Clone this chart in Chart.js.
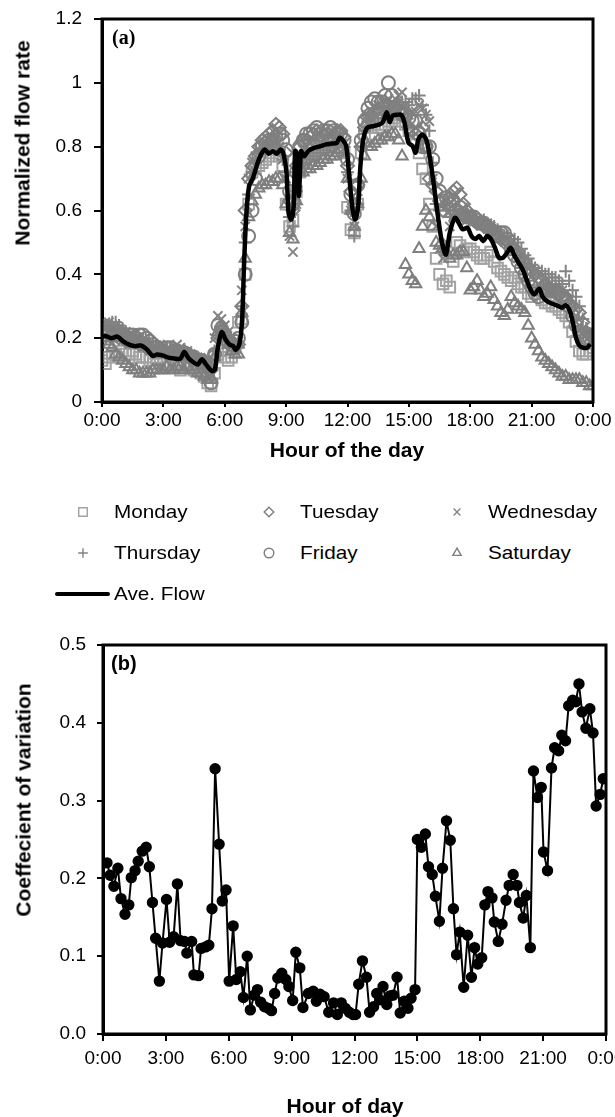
<!DOCTYPE html>
<html>
<head>
<meta charset="utf-8">
<script src="https://cdn.jsdelivr.net/npm/chart.js@4.4.1/dist/chart.umd.min.js"></script>
<style>
  body { margin: 0; background: #fff; font-family: "Liberation Sans", Arial, sans-serif; }
  #page { position: relative; width: 615px; height: 1117px; overflow: hidden; }
  canvas { position: absolute; left: 0; }
  .txt { position: absolute; white-space: nowrap; color: #000; line-height: 1; }
  .ytitle { font-weight: bold; font-size: 21px; transform: translate(-50%, -50%) rotate(-90deg); }
  .xtitle { font-weight: bold; font-size: 19.5px; transform: translate(-50%, -50%) scaleX(1.08); }
  .tag { font-weight: bold; font-size: 20px; transform: translateY(-50%); }
  .leg { font-size: 18.5px; transform: translateY(-50%) scaleX(1.12); transform-origin: left center; }
</style>
</head>
<body>
<div id="page">
  <canvas id="flowChart" width="615" height="470" style="top:0"></canvas>
  <canvas id="cvChart" width="615" height="497" style="top:620px"></canvas>

  <div class="txt ytitle" style="left:22px; top:143px">Normalized flow rate</div>
  <div class="txt xtitle" style="left:347px; top:451px">Hour of the day</div>
  <div class="txt tag" style="left:112px; top:37px; font-family:'Liberation Serif','Times New Roman',serif">(a)</div>

  <div class="txt ytitle" style="left:23px; top:800px">Coeffecient of variation</div>
  <div class="txt xtitle" style="left:345px; top:1107px">Hour of day</div>
  <div class="txt tag" style="left:111px; top:663px">(b)</div>

  <div id="legend"></div>
</div>

<script>
// --- data ---
const hourTicks = ['0:00', '3:00', '6:00', '9:00', '12:00', '15:00', '18:00', '21:00', '0:00'];
const flowTicks = ['0', '0.2', '0.4', '0.6', '0.8', '1', '1.2'];
const cvTicks = ['0.0', '0.1', '0.2', '0.3', '0.4', '0.5'];

const dayNames = ['Monday', 'Tuesday', 'Wednesday', 'Thursday', 'Friday', 'Saturday'];
const avgName = 'Ave. Flow';

// day samples every 10 minutes, 0:00 .. 24:00 (one row = two hours)
const dayHours = Array.from({ length: 145 }, (_, i) => i / 6);

const monday = [
  0.13, 0.12, 0.14, 0.15, 0.15, 0.14, 0.16, 0.15, 0.15, 0.16, 0.15, 0.14,
  0.14, 0.14, 0.13, 0.12, 0.12, 0.13, 0.12, 0.11, 0.11, 0.12, 0.11, 0.10,
  0.12, 0.11, 0.11, 0.10, 0.10, 0.09, 0.08, 0.06, 0.05, 0.09, 0.15, 0.16,
  0.14, 0.13, 0.14, 0.17, 0.25, 0.26, 0.40, 0.62, 0.72, 0.73, 0.74, 0.75,
  0.76, 0.77, 0.78, 0.79, 0.77, 0.74, 0.62, 0.55, 0.57, 0.66, 0.72, 0.75,
  0.77, 0.78, 0.78, 0.79, 0.80, 0.79, 0.80, 0.81, 0.81, 0.82, 0.80, 0.78,
  0.61, 0.54, 0.53, 0.62, 0.78, 0.84, 0.86, 0.86, 0.87, 0.86, 0.86, 0.87,
  0.88, 0.88, 0.89, 0.90, 0.88, 0.87, 0.85, 0.84, 0.82, 0.78, 0.73, 0.70,
  0.62, 0.55, 0.45, 0.40, 0.37, 0.38, 0.36, 0.44, 0.50, 0.49, 0.47, 0.48,
  0.48, 0.47, 0.46, 0.45, 0.45, 0.46, 0.47, 0.44, 0.42, 0.41, 0.40, 0.39,
  0.38, 0.39, 0.37, 0.36, 0.36, 0.34, 0.33, 0.35, 0.34, 0.32, 0.31, 0.31,
  0.30, 0.30, 0.29, 0.28, 0.27, 0.25, 0.22, 0.19, 0.16, 0.15, 0.15, 0.16,
  0.17
];
const tuesday = [
  0.22, 0.23, 0.22, 0.21, 0.21, 0.20, 0.20, 0.19, 0.19, 0.20, 0.19, 0.18,
  0.18, 0.17, 0.17, 0.16, 0.16, 0.17, 0.16, 0.15, 0.15, 0.16, 0.15, 0.15,
  0.16, 0.15, 0.14, 0.14, 0.13, 0.13, 0.13, 0.11, 0.10, 0.15, 0.20, 0.22,
  0.22, 0.20, 0.19, 0.18, 0.18, 0.30, 0.60, 0.70, 0.74, 0.77, 0.80, 0.82,
  0.83, 0.84, 0.85, 0.87, 0.86, 0.84, 0.78, 0.63, 0.60, 0.74, 0.80, 0.82,
  0.82, 0.83, 0.84, 0.85, 0.83, 0.84, 0.84, 0.83, 0.84, 0.85, 0.85, 0.83,
  0.74, 0.66, 0.62, 0.68, 0.80, 0.86, 0.90, 0.90, 0.91, 0.92, 0.92, 0.93,
  0.93, 0.92, 0.92, 0.93, 0.91, 0.89, 0.86, 0.85, 0.84, 0.85, 0.86, 0.80,
  0.70, 0.68, 0.66, 0.63, 0.60, 0.62, 0.64, 0.66, 0.67, 0.65, 0.62, 0.60,
  0.58, 0.57, 0.56, 0.56, 0.55, 0.55, 0.54, 0.53, 0.52, 0.51, 0.50, 0.50,
  0.49, 0.48, 0.47, 0.45, 0.44, 0.42, 0.41, 0.40, 0.39, 0.38, 0.37, 0.36,
  0.35, 0.35, 0.34, 0.33, 0.33, 0.31, 0.30, 0.29, 0.28, 0.25, 0.22, 0.21,
  0.20
];
const wednesday = [
  0.24, 0.25, 0.25, 0.24, 0.24, 0.23, 0.22, 0.22, 0.21, 0.21, 0.20, 0.20,
  0.19, 0.18, 0.18, 0.17, 0.17, 0.18, 0.17, 0.16, 0.16, 0.17, 0.18, 0.17,
  0.16, 0.16, 0.15, 0.14, 0.14, 0.13, 0.13, 0.12, 0.12, 0.20, 0.27, 0.26,
  0.24, 0.22, 0.20, 0.19, 0.19, 0.35, 0.55, 0.70, 0.75, 0.77, 0.79, 0.80,
  0.81, 0.81, 0.82, 0.82, 0.80, 0.76, 0.70, 0.52, 0.47, 0.62, 0.76, 0.79,
  0.80, 0.81, 0.82, 0.82, 0.83, 0.82, 0.82, 0.83, 0.84, 0.84, 0.83, 0.81,
  0.70, 0.60, 0.55, 0.66, 0.82, 0.88, 0.90, 0.91, 0.92, 0.93, 0.93, 0.94,
  0.95, 0.94, 0.95, 0.96, 0.97, 0.93, 0.90, 0.91, 0.91, 0.93, 0.92, 0.90,
  0.88, 0.70, 0.55, 0.48, 0.45, 0.50, 0.55, 0.58, 0.60, 0.59, 0.58, 0.57,
  0.56, 0.57, 0.57, 0.56, 0.56, 0.56, 0.55, 0.54, 0.53, 0.52, 0.51, 0.51,
  0.50, 0.48, 0.45, 0.44, 0.43, 0.42, 0.41, 0.41, 0.40, 0.38, 0.37, 0.37,
  0.36, 0.36, 0.35, 0.35, 0.34, 0.32, 0.30, 0.27, 0.24, 0.22, 0.21, 0.21,
  0.21
];
const thursday = [
  0.23, 0.24, 0.24, 0.25, 0.25, 0.24, 0.23, 0.22, 0.21, 0.21, 0.20, 0.20,
  0.19, 0.19, 0.18, 0.17, 0.17, 0.17, 0.16, 0.16, 0.16, 0.15, 0.15, 0.16,
  0.16, 0.15, 0.15, 0.14, 0.14, 0.13, 0.12, 0.12, 0.11, 0.16, 0.21, 0.20,
  0.19, 0.18, 0.17, 0.17, 0.17, 0.30, 0.50, 0.65, 0.72, 0.75, 0.78, 0.79,
  0.80, 0.80, 0.80, 0.79, 0.79, 0.76, 0.72, 0.58, 0.55, 0.66, 0.74, 0.75,
  0.76, 0.76, 0.77, 0.78, 0.78, 0.79, 0.80, 0.80, 0.81, 0.81, 0.82, 0.80,
  0.72, 0.60, 0.52, 0.62, 0.80, 0.85, 0.88, 0.88, 0.89, 0.89, 0.90, 0.90,
  0.91, 0.92, 0.93, 0.93, 0.94, 0.94, 0.93, 0.95, 0.95, 0.96, 0.93, 0.90,
  0.85, 0.75, 0.62, 0.60, 0.62, 0.60, 0.58, 0.59, 0.60, 0.59, 0.58, 0.58,
  0.57, 0.57, 0.56, 0.56, 0.57, 0.56, 0.55, 0.55, 0.54, 0.53, 0.52, 0.52,
  0.51, 0.51, 0.50, 0.48, 0.46, 0.45, 0.43, 0.42, 0.41, 0.41, 0.40, 0.40,
  0.39, 0.39, 0.38, 0.37, 0.41, 0.38, 0.35, 0.33, 0.30, 0.26, 0.23, 0.21,
  0.20
];
const friday = [
  0.21, 0.22, 0.22, 0.21, 0.21, 0.22, 0.21, 0.20, 0.20, 0.21, 0.20, 0.21,
  0.21, 0.20, 0.19, 0.18, 0.17, 0.16, 0.16, 0.17, 0.17, 0.16, 0.16, 0.15,
  0.15, 0.15, 0.14, 0.14, 0.13, 0.13, 0.12, 0.08, 0.06, 0.15, 0.24, 0.23,
  0.21, 0.19, 0.18, 0.19, 0.20, 0.25, 0.40, 0.52, 0.60, 0.70, 0.77, 0.80,
  0.81, 0.82, 0.82, 0.83, 0.84, 0.82, 0.79, 0.66, 0.62, 0.72, 0.80, 0.82,
  0.84, 0.84, 0.85, 0.86, 0.84, 0.85, 0.85, 0.86, 0.85, 0.84, 0.84, 0.82,
  0.76, 0.65, 0.59, 0.68, 0.82, 0.88, 0.92, 0.94, 0.95, 0.94, 0.94, 0.96,
  1.00, 0.96, 0.92, 0.91, 0.90, 0.90, 0.89, 0.88, 0.88, 0.84, 0.80, 0.80,
  0.80, 0.76, 0.70, 0.66, 0.63, 0.64, 0.62, 0.63, 0.60, 0.61, 0.59, 0.58,
  0.58, 0.58, 0.57, 0.56, 0.56, 0.55, 0.54, 0.53, 0.52, 0.53, 0.53, 0.51,
  0.48, 0.46, 0.44, 0.42, 0.40, 0.38, 0.36, 0.34, 0.33, 0.35, 0.36, 0.35,
  0.35, 0.35, 0.34, 0.33, 0.32, 0.30, 0.27, 0.24, 0.22, 0.21, 0.20, 0.20,
  0.21
];
const saturday = [
  0.20, 0.19, 0.18, 0.17, 0.15, 0.14, 0.13, 0.12, 0.11, 0.10, 0.10, 0.09,
  0.09, 0.09, 0.09, 0.10, 0.10, 0.10, 0.10, 0.11, 0.10, 0.10, 0.11, 0.11,
  0.10, 0.11, 0.10, 0.10, 0.09, 0.09, 0.08, 0.07, 0.07, 0.14, 0.22, 0.23,
  0.20, 0.18, 0.16, 0.15, 0.15, 0.28, 0.45, 0.58, 0.63, 0.65, 0.67, 0.68,
  0.68, 0.69, 0.69, 0.70, 0.70, 0.68, 0.62, 0.53, 0.51, 0.63, 0.72, 0.72,
  0.73, 0.73, 0.74, 0.74, 0.75, 0.76, 0.76, 0.77, 0.77, 0.78, 0.79, 0.78,
  0.70, 0.60, 0.55, 0.62, 0.70, 0.77, 0.80, 0.80, 0.81, 0.82, 0.82, 0.83,
  0.83, 0.84, 0.84, 0.82, 0.77, 0.43, 0.40, 0.38, 0.37, 0.48, 0.55, 0.60,
  0.58, 0.55, 0.50, 0.49, 0.48, 0.47, 0.45, 0.46, 0.46, 0.47, 0.47, 0.42,
  0.35, 0.36, 0.38, 0.35, 0.33, 0.34, 0.36, 0.32, 0.30, 0.28, 0.27, 0.29,
  0.33, 0.31, 0.30, 0.29, 0.28, 0.24, 0.20, 0.18, 0.16, 0.14, 0.13, 0.12,
  0.11, 0.10, 0.09, 0.08, 0.08, 0.07, 0.07, 0.07, 0.07, 0.06, 0.06, 0.05,
  0.05
];
const dayValues = [monday, tuesday, wednesday, thursday, friday, saturday];

// average flow line
const avgHours = [
  0, 0.17, 0.46, 0.75, 1.04, 1.33, 1.62, 1.9, 2.19, 2.48,
  2.67, 2.96, 3.25, 3.54, 3.83, 4.02, 4.21, 4.5, 4.69, 4.88,
  5.08, 5.37, 5.52, 5.65, 5.85, 6.04, 6.23, 6.42, 6.52, 6.71,
  6.85, 6.94, 7.06, 7.19, 7.38, 7.58, 7.77, 7.96, 8.15, 8.35,
  8.54, 8.73, 8.87, 9.02, 9.12, 9.25, 9.37, 9.44, 9.54, 9.63,
  9.73, 9.88, 10.08, 10.37, 10.65, 10.94, 11.23, 11.48, 11.62, 11.81,
  11.94, 12.1, 12.25, 12.38, 12.52, 12.63, 12.77, 12.96, 13.25, 13.54,
  13.73, 13.92, 14.06, 14.21, 14.44, 14.63, 14.79, 14.98, 15.17, 15.33,
  15.46, 15.65, 15.85, 16.04, 16.23, 16.42, 16.62, 16.81, 17.0, 17.25,
  17.44, 17.63, 17.87, 18.06, 18.25, 18.44, 18.63, 18.83, 19.02, 19.21,
  19.4, 19.6, 19.79, 19.98, 20.17, 20.37, 20.56, 20.75, 20.94, 21.13,
  21.37, 21.52, 21.71, 21.9, 22.1, 22.29, 22.48, 22.67, 22.87, 23.02,
  23.17, 23.33, 23.52, 23.71, 23.87
];
const avgFlow = [
  0.205, 0.207, 0.2, 0.205, 0.19, 0.18, 0.175, 0.177, 0.165, 0.144,
  0.149, 0.146, 0.139, 0.136, 0.136, 0.157, 0.139, 0.123, 0.118, 0.134,
  0.118, 0.097, 0.102, 0.165, 0.219, 0.196, 0.18, 0.175, 0.163, 0.18,
  0.259, 0.426, 0.593, 0.676, 0.702, 0.744, 0.775, 0.791, 0.778, 0.786,
  0.778, 0.791, 0.778, 0.718, 0.593, 0.572, 0.614, 0.786, 0.775, 0.645,
  0.786, 0.77, 0.786, 0.796, 0.801, 0.807, 0.81, 0.812, 0.828, 0.817,
  0.801, 0.697, 0.603, 0.572, 0.614, 0.739, 0.822, 0.859, 0.864, 0.869,
  0.877, 0.908, 0.877, 0.897, 0.9, 0.9, 0.874, 0.812, 0.803, 0.781,
  0.822, 0.838, 0.822, 0.76, 0.676, 0.582, 0.499, 0.462, 0.53, 0.577,
  0.561, 0.541, 0.546, 0.52, 0.511, 0.52, 0.504, 0.52, 0.509, 0.483,
  0.452, 0.452, 0.467, 0.483, 0.457, 0.436, 0.415, 0.384, 0.353, 0.337,
  0.355, 0.332, 0.318, 0.311, 0.306, 0.301, 0.295, 0.303, 0.285, 0.248,
  0.201, 0.177, 0.17, 0.17, 0.181
];

// coefficient of variation (panel b)
const cvHours = [
  0.19, 0.34, 0.52, 0.71, 0.86, 1.05, 1.23, 1.35, 1.53, 1.68,
  1.87, 2.06, 2.21, 2.36, 2.51, 2.69, 2.84, 3.03, 3.18, 3.37,
  3.55, 3.70, 3.89, 4.00, 4.23, 4.34, 4.56, 4.68, 4.90, 5.05,
  5.20, 5.35, 5.54, 5.69, 5.87, 6.02, 6.21, 6.36, 6.55, 6.70,
  6.88, 7.03, 7.22, 7.37, 7.52, 7.71, 7.89, 8.04, 8.19, 8.34,
  8.53, 8.72, 8.87, 9.05, 9.20, 9.39, 9.54, 9.80, 10.03, 10.18,
  10.36, 10.55, 10.77, 11.00, 11.18, 11.37, 11.56, 11.75, 11.93, 12.05,
  12.20, 12.38, 12.57, 12.72, 12.91, 13.06, 13.21, 13.36, 13.54, 13.69,
  13.84, 14.03, 14.18, 14.37, 14.55, 14.70, 14.89, 15.00, 15.19, 15.38,
  15.53, 15.71, 15.86, 16.05, 16.20, 16.39, 16.57, 16.72, 16.87, 17.02,
  17.21, 17.40, 17.58, 17.73, 17.88, 18.07, 18.22, 18.37, 18.56, 18.67,
  18.86, 19.04, 19.23, 19.38, 19.57, 19.75, 19.87, 20.05, 20.20, 20.39,
  20.54, 20.73, 20.91, 21.02, 21.21, 21.40, 21.55, 21.74, 21.89, 22.07,
  22.22, 22.41, 22.56, 22.71, 22.86, 23.04, 23.23, 23.38, 23.53, 23.72,
  23.87
];
const cvValues = [
  0.220, 0.204, 0.190, 0.213, 0.174, 0.154, 0.166, 0.201, 0.210, 0.222,
  0.235, 0.240, 0.215, 0.169, 0.123, 0.068, 0.117, 0.173, 0.118, 0.125,
  0.193, 0.120, 0.119, 0.104, 0.119, 0.076, 0.075, 0.110, 0.112, 0.114,
  0.161, 0.341, 0.244, 0.171, 0.185, 0.068, 0.139, 0.070, 0.080, 0.047,
  0.100, 0.031, 0.050, 0.057, 0.041, 0.035, 0.033, 0.030, 0.052, 0.072,
  0.078, 0.070, 0.061, 0.043, 0.105, 0.085, 0.034, 0.052, 0.055, 0.042,
  0.051, 0.048, 0.028, 0.040, 0.025, 0.040, 0.033, 0.028, 0.025, 0.025,
  0.064, 0.094, 0.073, 0.028, 0.035, 0.052, 0.044, 0.061, 0.038, 0.049,
  0.050, 0.073, 0.027, 0.042, 0.033, 0.046, 0.057, 0.250, 0.240, 0.257,
  0.215, 0.205, 0.177, 0.145, 0.213, 0.274, 0.249, 0.161, 0.102, 0.131,
  0.060, 0.127, 0.073, 0.111, 0.090, 0.098, 0.166, 0.183, 0.175, 0.144,
  0.119, 0.141, 0.172, 0.191, 0.205, 0.191, 0.169, 0.149, 0.178, 0.111,
  0.338, 0.304, 0.317, 0.234, 0.210, 0.342, 0.368, 0.364, 0.384, 0.377,
  0.422, 0.429, 0.427, 0.450, 0.414, 0.393, 0.418, 0.387, 0.293, 0.308,
  0.328
];

// --- styles ---
const dayMarkers = ['rect', 'rectRot', 'crossRot', 'cross', 'circle', 'triangle'];
const dayColors = ['#a2a2a2', '#7f7f7f', '#838383', '#838383', '#7f7f7f', '#7f7f7f'];
const FONT = "'Liberation Sans', Arial, sans-serif";

function pairs(xs, ys) {
  const n = Math.min(xs.length, ys.length);
  const out = [];
  for (let i = 0; i < n; i++) out.push({ x: xs[i], y: ys[i] });
  return out;
}

// black box round the plot area
const frame = {
  id: 'frame',
  afterDraw(chart) {
    const a = chart.chartArea, ctx = chart.ctx;
    ctx.save();
    ctx.strokeStyle = '#000';
    ctx.lineWidth = 3;
    ctx.strokeRect(a.left, a.top, a.right - a.left, a.bottom - a.top);
    ctx.restore();
  }
};

function xAxis(tickLen, pad) {
  return {
    type: 'linear', min: 0, max: 24,
    afterFit(s) { s.height = 30; s.paddingLeft = 0; s.paddingRight = 0; },
    grid: { drawOnChartArea: false, drawTicks: true, tickLength: tickLen, color: '#000', lineWidth: 2 },
    border: { display: true, color: '#000', width: 3 },
    ticks: {
      stepSize: 3, padding: pad, color: '#000', maxRotation: 0, autoSkip: false,
      font: { family: FONT, size: 19 },
      callback: v => hourTicks[Math.round(v / 3)]
    }
  };
}

function yAxis(width, max, step, labels, tickLen, pad) {
  return {
    type: 'linear', min: 0, max: max,
    afterFit(s) { s.width = width; s.paddingTop = 0; s.paddingBottom = 0; },
    grid: { drawOnChartArea: false, drawTicks: true, tickLength: tickLen, color: '#000', lineWidth: 2 },
    border: { display: true, color: '#000', width: 3 },
    ticks: {
      stepSize: step, padding: pad, color: '#000', autoSkip: false,
      font: { family: FONT, size: 19 },
      callback: v => labels[Math.round(v / step)]
    }
  };
}

const flowSets = dayNames.map((name, i) => ({
  label: name,
  data: pairs(dayHours, dayValues[i]),
  showLine: false,
  pointStyle: dayMarkers[i],
  pointRadius: dayMarkers[i] === 'rect' ? 7.5 : 6.5,
  pointBorderWidth: 2,
  borderColor: dayColors[i],
  backgroundColor: 'rgba(0,0,0,0)',
  order: 6 - i
}));
flowSets.push({
  label: avgName,
  data: pairs(avgHours, avgFlow),
  showLine: true,
  pointRadius: 0,
  borderColor: '#000',
  borderWidth: 4.5,
  tension: 0.3,
  order: 0
});

new Chart(document.getElementById('flowChart'), {
  type: 'scatter',
  data: { datasets: flowSets },
  options: {
    responsive: false,
    animation: false,
    layout: { autoPadding: false, padding: { left: 0, top: 19, right: 22, bottom: 38 } },
    plugins: { legend: { display: false }, tooltip: { enabled: false } },
    scales: { x: xAxis(5, 2), y: yAxis(102, 1.2, 0.2, flowTicks, 8, 12) }
  },
  plugins: [frame]
});

new Chart(document.getElementById('cvChart'), {
  type: 'scatter',
  data: {
    datasets: [{
      label: 'CV',
      data: pairs(cvHours, cvValues),
      showLine: true,
      borderColor: '#000',
      borderWidth: 2,
      pointRadius: 4.7,
      pointBackgroundColor: '#000',
      pointBorderColor: '#000',
      tension: 0
    }]
  },
  options: {
    responsive: false,
    animation: false,
    layout: { autoPadding: false, padding: { left: 0, top: 25, right: 9, bottom: 53 } },
    plugins: { legend: { display: false }, tooltip: { enabled: false } },
    scales: { x: xAxis(7, 6), y: yAxis(103, 0.5, 0.1, cvTicks, 6, 11) }
  },
  plugins: [frame]
});

// --- legend between the panels ---
const legend = document.getElementById('legend');
const legCols = [83, 269, 457];
const legRows = [512, 553];
dayNames.forEach((name, i) => {
  const cx = legCols[i % 3], cy = legRows[Math.floor(i / 3)];
  const c = document.createElement('canvas');
  c.width = 16; c.height = 16;
  c.style.left = (cx - 8) + 'px';
  c.style.top = (cy - 8) + 'px';
  const ctx = c.getContext('2d');
  ctx.strokeStyle = dayColors[i];
  ctx.fillStyle = 'rgba(0,0,0,0)';
  ctx.lineWidth = 1.4;
  Chart.helpers.drawPoint(ctx, { pointStyle: dayMarkers[i], radius: dayMarkers[i] === 'rect' ? 6 : 4.8, borderWidth: 1.4 }, 8, 8);
  legend.appendChild(c);
  const t = document.createElement('div');
  t.className = 'txt leg';
  t.style.left = (cx + 31) + 'px';
  t.style.top = cy + 'px';
  t.textContent = name;
  legend.appendChild(t);
});
const line = document.createElement('div');
line.style.cssText = 'position:absolute;left:55px;top:592px;width:55px;height:4px;background:#000;border-radius:2px';
legend.appendChild(line);
const avgText = document.createElement('div');
avgText.className = 'txt leg';
avgText.style.left = '114px';
avgText.style.top = '594px';
avgText.textContent = avgName;
legend.appendChild(avgText);
</script>
</body>
</html>
